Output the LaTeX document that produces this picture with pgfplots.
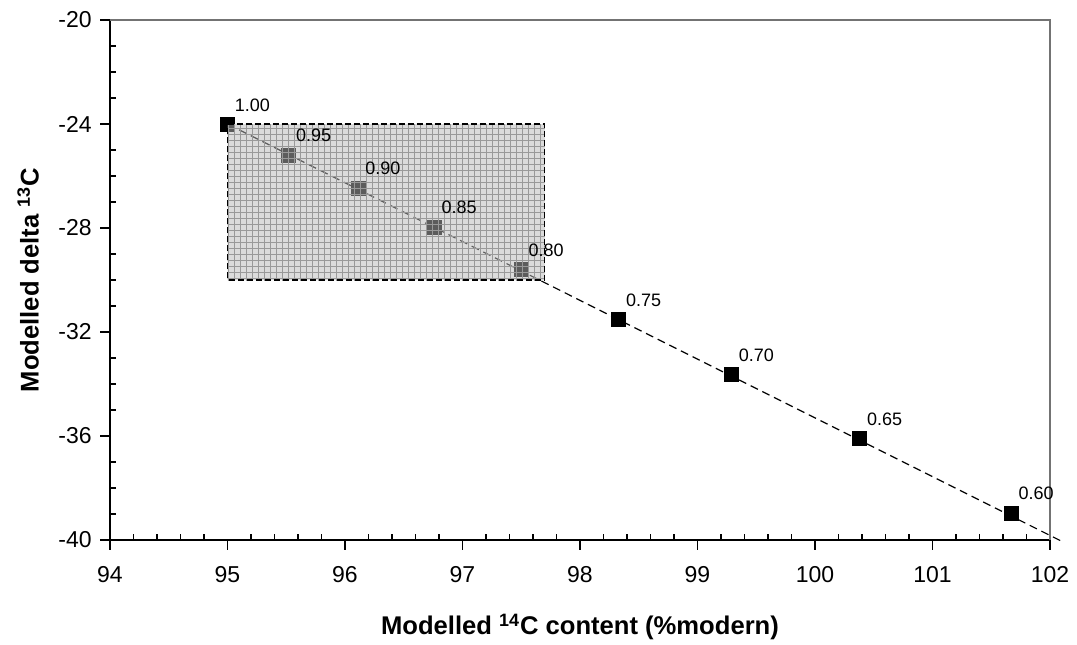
\documentclass[border=0pt]{standalone}
\usepackage{pgfplots}
\pgfplotsset{compat=1.18}
\usepackage{pgfplotstable}
\usetikzlibrary{patterns}
\usepackage{fontspec}
\setmainfont{Liberation Sans}

\pgfplotstableread{
x y lab
95.00 -24.00 1.00
95.52 -25.19 0.95
96.11 -26.46 0.90
96.76 -27.96 0.85
97.50 -29.58 0.80
98.33 -31.50 0.75
99.29 -33.62 0.70
100.38 -36.08 0.65
101.67 -38.96 0.60
}\datatab

\pgfplotstableread{
x y
95.00 -24.00
102.10 -40.05
}\linetab

\pgfplotstableread{
x y
95.00 -24.00
97.70 -24.00
97.70 -30.00
95.00 -30.00
95.00 -24.00
}\recttab

\begin{document}
\begin{tikzpicture}
\begin{axis}[
  name=ax,
  scale only axis,
  width=470pt, height=260pt,
  xmin=94, xmax=102, ymin=-40, ymax=-20,
  xtick={94,95,...,102},
  ytick={-40,-36,...,-20},
  minor x tick num=4,
  minor y tick num=3,
  axis x line*=bottom,
  axis y line*=left,
  axis line style={black, line width=0.8pt},
  tick align=inside,
  major tick length=-5pt,
  minor tick length=3pt,
  tick style={black, line width=0.6pt},
  /pgf/number format/assume math mode=true,
  tick label style={font=\fontsize{11.5}{13}\selectfont},
  xticklabel style={anchor=north, inner sep=0pt, yshift=-13pt},
  yticklabel style={anchor=east, inner sep=0pt, xshift=-9pt},
  every axis x label/.style={at={(axis description cs:0.5,-0.167)}, anchor=center},
  every axis y label/.style={at={(axis description cs:-0.0872,0.5)}, rotate=90, anchor=center},
  xlabel={\fontsize{12.8}{15}\selectfont\bfseries Modelled \textsuperscript{14}C content (\%modern)},
  ylabel={\fontsize{12.8}{15}\selectfont\bfseries Modelled delta \textsuperscript{13}C},
  clip=false,
]
\addplot[black, line width=0.6pt, dash pattern=on 4pt off 2.5pt] table[x=x,y=y]{\linetab};
\addplot[only marks, mark=square*, mark size=3.5pt, black] table[x=x,y=y]{\datatab};
\draw[black!55, line width=0.6pt] (rel axis cs:0,1) -- (rel axis cs:1,1) -- (rel axis cs:1,0);
\end{axis}
\begin{axis}[
  at={(ax.south west)}, anchor=south west,
  scale only axis,
  width=470pt, height=260pt,
  xmin=94, xmax=102, ymin=-40, ymax=-20,
  hide axis,
  clip=false,
]
\addplot[draw=none, fill=black!28, fill opacity=0.5] table[x=x,y=y]{\recttab};
\addplot[draw=none, pattern=grid, pattern color=black!40, fill opacity=0.35] table[x=x,y=y]{\recttab};
\addplot[black, line width=0.6pt, dash pattern=on 3pt off 1.5pt] table[x=x,y=y]{\recttab};
\addplot[draw=none, mark=none, nodes near coords, point meta=explicit symbolic,
  every node near coord/.append style={anchor=base west, inner sep=0pt, xshift=3.5pt, yshift=6.5pt, font=\fontsize{9}{11}\selectfont, text=black}]
  table[x=x,y=y,meta=lab]{\datatab};
\end{axis}
\pgfresetboundingbox
\path (ax.south west) ++(-55pt,-52pt) rectangle ++(538.5pt,322pt);
\end{tikzpicture}
\end{document}
